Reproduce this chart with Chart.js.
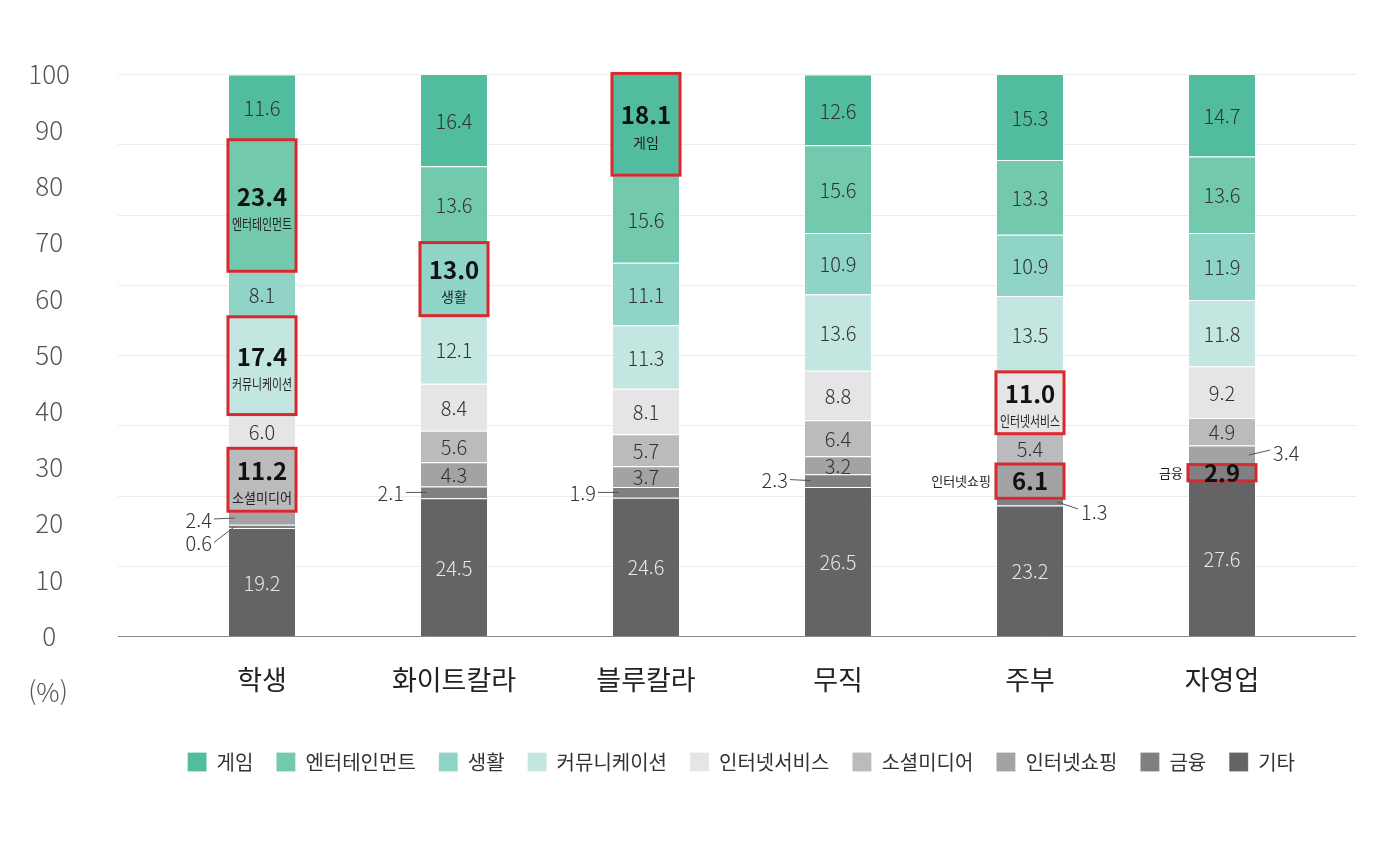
<!DOCTYPE html>
<html lang="ko">
<head>
<meta charset="utf-8">
<title>직업별 앱 카테고리 이용 비중</title>
<script src="https://cdn.jsdelivr.net/npm/chart.js@4.4.1/dist/chart.umd.min.js"></script>
<style>
  html, body { margin: 0; padding: 0; background: #fff; }
  #wrap { width: 1378px; height: 842px; }
</style>
</head>
<body>
<div id="wrap"><canvas id="shareChart" width="1378" height="842"></canvas></div>
<script>
// categories (x axis) and series, legend order (top of bar first)
const categories = ['학생', '화이트칼라', '블루칼라', '무직', '주부', '자영업'];
const seriesNames = ['게임', '엔터테인먼트', '생활', '커뮤니케이션', '인터넷서비스', '소셜미디어', '인터넷쇼핑', '금융', '기타'];

// share (%) per category
const game             = [11.6, 16.4, 18.1, 12.6, 15.3, 14.7];
const entertainment    = [23.4, 13.6, 15.6, 15.6, 13.3, 13.6];
const life             = [8.1, 13.0, 11.1, 10.9, 10.9, 11.9];
const communication    = [17.4, 12.1, 11.3, 13.6, 13.5, 11.8];
const internetService  = [6.0, 8.4, 8.1, 8.8, 11.0, 9.2];
const socialMedia      = [11.2, 5.6, 5.7, 6.4, 5.4, 4.9];
const internetShopping = [2.4, 4.3, 3.7, 3.2, 6.1, 3.4];
const finance          = [0.6, 2.1, 1.9, 2.3, 1.3, 2.9];
const etc              = [19.2, 24.5, 24.6, 26.5, 23.2, 27.6];

const yTicks = [0, 10, 20, 30, 40, 50, 60, 70, 80, 90, 100];

const seriesValues = [game, entertainment, life, communication, internetService, socialMedia, internetShopping, finance, etc];
const seriesColors = ['#52bc9e', '#72c9ae', '#8fd4c6', '#c3e6e0', '#e5e5e7', '#bbbbbe', '#a3a3a6', '#808083', '#646466'];

// boxed (red) segments; nameSide 'inside' puts the series name under the value
const highlights = [
    { cat: 0, series: '엔터테인먼트', nameSide: 'inside' },
    { cat: 0, series: '커뮤니케이션', nameSide: 'inside' },
    { cat: 0, series: '소셜미디어', nameSide: 'inside' },
    { cat: 1, series: '생활', nameSide: 'inside' },
    { cat: 2, series: '게임', nameSide: 'inside' },
    { cat: 4, series: '인터넷서비스', nameSide: 'inside' },
    { cat: 4, series: '인터넷쇼핑', nameSide: 'left' },
    { cat: 5, series: '금융', nameSide: 'left' }
];

// thin segments labelled outside the bar with a leader line
const leaders = [
    { cat: 0, series: '인터넷쇼핑', side: 'left', dy: 1 },
    { cat: 0, series: '금융', side: 'left', dy: 16 },
    { cat: 1, series: '금융', side: 'left', dy: 0 },
    { cat: 2, series: '금융', side: 'left', dy: 0 },
    { cat: 3, series: '금융', side: 'left', dy: -1 },
    { cat: 4, series: '금융', side: 'right', dy: 9 },
    { cat: 5, series: '인터넷쇼핑', side: 'right', dy: -3 }
];

const FONT = "'Noto Sans CJK KR', 'Noto Sans', sans-serif";
const gridStep = 12.5;

function segment(chart, cat, name) {
    const dsIndex = chart.data.datasets.findIndex(d => d.label === name);
    const el = chart.getDatasetMeta(dsIndex).data[cat];
    const p = el.getProps(['x', 'y', 'base', 'width'], true);
    return {
        x: p.x,
        w: p.width,
        top: Math.min(p.y, p.base),
        bottom: Math.max(p.y, p.base),
        mid: (p.y + p.base) / 2,
        value: chart.data.datasets[dsIndex].data[cat]
    };
}

const barNotes = {
    id: 'barNotes',
    beforeDatasetsDraw(chart) {
        const { ctx, scales: { y } } = chart;
        ctx.save();
        ctx.strokeStyle = '#ececec';
        ctx.lineWidth = 1;
        for (let v = gridStep; v <= 100; v += gridStep) {
            const py = Math.round(y.getPixelForValue(v)) + 0.5;
            ctx.beginPath();
            ctx.moveTo(118, py);
            ctx.lineTo(1356, py);
            ctx.stroke();
        }
        ctx.restore();
    },
    afterDatasetsDraw(chart) {
        const { ctx, scales: { y } } = chart;
        ctx.save();

        // base line
        const py0 = Math.round(y.getPixelForValue(0)) + 0.5;
        ctx.strokeStyle = '#8a8a8a';
        ctx.lineWidth = 1;
        ctx.beginPath();
        ctx.moveTo(118, py0);
        ctx.lineTo(1356, py0);
        ctx.stroke();

        const isHi = (c, s) => highlights.some(h => h.cat === c && h.series === s);
        const isLeader = (c, s) => leaders.some(l => l.cat === c && l.series === s);

        ctx.textAlign = 'center';
        ctx.textBaseline = 'middle';

        // plain values inside the bars
        seriesNames.forEach(name => {
            categories.forEach((c, i) => {
                if (isHi(i, name) || isLeader(i, name)) return;
                const s = segment(chart, i, name);
                ctx.font = '300 20px ' + FONT;
                ctx.fillStyle = name === '기타' ? '#e6e6e6' : '#333';
                ctx.fillText(s.value.toFixed(1), s.x, s.mid + 1);
            });
        });

        // leader labels
        leaders.forEach(l => {
            const s = segment(chart, l.cat, l.series);
            const left = s.x - s.w / 2;
            const right = s.x + s.w / 2;
            const ty = s.mid + l.dy;
            ctx.strokeStyle = '#555';
            ctx.lineWidth = 1;
            ctx.beginPath();
            if (l.side === 'left') {
                ctx.moveTo(left - 15, ty);
                ctx.lineTo(left + 6, s.mid);
            } else {
                ctx.moveTo(right - 6, s.mid);
                ctx.lineTo(right + 15, ty - 2);
            }
            ctx.stroke();
            ctx.font = '300 20px ' + FONT;
            ctx.fillStyle = '#333';
            ctx.textAlign = l.side === 'left' ? 'right' : 'left';
            ctx.fillText(s.value.toFixed(1), l.side === 'left' ? left - 17 : right + 18, ty + 1);
        });

        // red boxes
        highlights.forEach(h => {
            const s = segment(chart, h.cat, h.series);
            const left = s.x - s.w / 2;
            ctx.strokeStyle = '#d8292f';
            ctx.lineWidth = 3;
            ctx.strokeRect(left - 1, s.top, s.w + 2, s.bottom - s.top);

            ctx.fillStyle = '#111';
            ctx.textAlign = 'center';
            ctx.font = 'bold 24px ' + FONT;
            if (h.nameSide === 'inside') {
                ctx.fillText(s.value.toFixed(1), s.x, s.mid - 9);
                ctx.font = '14px ' + FONT;
                ctx.fillStyle = '#222';
                ctx.fillText(h.series, s.x, s.mid + 18, s.w - 6);
            } else {
                ctx.fillText(s.value.toFixed(1), s.x, s.mid);
                ctx.font = '13px ' + FONT;
                ctx.fillStyle = '#222';
                ctx.textAlign = 'right';
                ctx.fillText(h.series, left - 6, s.mid);
            }
        });

        // unit under the y axis
        ctx.font = '300 26px ' + FONT;
        ctx.fillStyle = '#555';
        ctx.textAlign = 'center';
        ctx.fillText('(%)', 48, 692);

        ctx.restore();
    }
};

const datasets = seriesNames.map((name, i) => ({
    label: name,
    data: seriesValues[i],
    backgroundColor: seriesColors[i],
    borderColor: 'rgba(255, 255, 255, 0.75)',
    borderWidth: { top: 1, bottom: 0, left: 0, right: 0 },
    borderSkipped: false,
    categoryPercentage: 1,
    barPercentage: 0.344
})).reverse(); // first dataset sits at the bottom of the stack

const ctx = document.getElementById('shareChart').getContext('2d');
const shareChart = new Chart(ctx, {
    type: 'bar',
    data: { labels: categories, datasets: datasets },
    options: {
        responsive: false,
        animation: false,
        layout: { padding: { top: 74, right: 60, bottom: 60, left: 0 } },
        scales: {
            x: {
                stacked: true,
                grid: { display: false },
                border: { display: false },
                ticks: {
                    color: '#222',
                    font: { family: FONT, size: 27 },
                    padding: 20
                },
                afterFit(scale) { scale.height = 93; }
            },
            y: {
                stacked: true,
                min: 0,
                max: 100,
                afterBuildTicks(scale) { scale.ticks = yTicks.map(v => ({ value: v })); },
                grid: { display: false, drawTicks: false },
                border: { display: false },
                ticks: {
                    color: '#555',
                    crossAlign: 'center',
                    padding: 96,
                    font: { family: FONT, size: 26, weight: '300' }
                },
                afterFit(scale) {
                    scale.width = 166;
                    // the big label padding only serves to push labels left
                    scale.paddingTop = 16;
                    scale.paddingBottom = 16;
                }
            }
        },
        plugins: {
            tooltip: { enabled: false },
            legend: {
                position: 'bottom',
                align: 'end',
                reverse: true,
                labels: {
                    color: '#333',
                    boxWidth: 19,
                    boxHeight: 19,
                    padding: 23,
                    font: { family: FONT, size: 20 }
                }
            }
        }
    },
    plugins: [barNotes]
});
</script>
</body>
</html>
